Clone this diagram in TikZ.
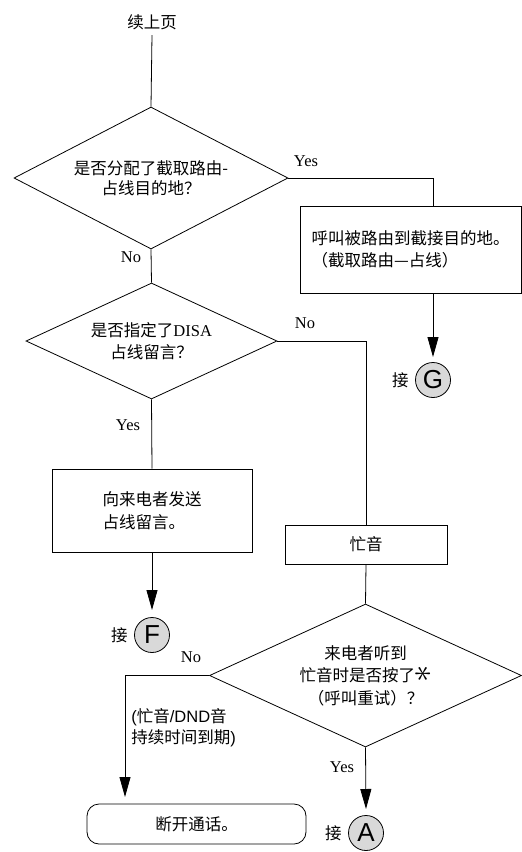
\documentclass[tikz,border=0pt]{standalone}
\usepackage{fontspec}
\setmainfont{Liberation Serif}
\newfontfamily\cjk{Noto Sans CJK SC}
\newfontfamily\lsans{Liberation Sans}
\usetikzlibrary{shapes.geometric,arrows.meta}
\begin{document}
\begin{tikzpicture}[x=1pt,y=-1pt, line width=0.8pt,
  every node/.style={font=\cjk\fontsize{16.5}{22.5}\selectfont},
  decision/.style={draw,diamond,inner sep=0pt,align=center},
  procbox/.style={draw,rectangle,inner sep=0pt},
  termbox/.style={draw,rectangle,rounded corners=12pt,inner sep=0pt},
  connector/.style={draw,circle,fill=gray!30,minimum size=35pt,inner sep=0pt,
    font=\lsans\fontsize{26}{26}\selectfont},
  lbl/.style={inner sep=0pt},
  ylbl/.style={inner sep=0pt,font=\rmfamily\fontsize{16.5}{16.5}\selectfont},
  arr/.style={-{Triangle[length=20pt,width=11pt]}}
]
\useasboundingbox (0,0) rectangle (522,852);

\node[lbl,inner sep=5pt] (start) at (152,22) {续上页};
\node[decision,aspect=1.93,minimum width=274pt,minimum height=142pt] (d1) at (151,178)
  {\raisebox{-4pt}{\shortstack{是否分配了截取路由-\\[2pt]占线目的地？}}};
\node[procbox,minimum width=221pt,minimum height=87pt,align=left] (b1) at (410.5,249.5)
  {呼叫被路由到截接目的地。\\（截取路由—占线）};
\node[connector] (G) at (433,380) {G};
\node[lbl,anchor=east] (Gl) at ([xshift=-6pt]G.west) {接};

\node[decision,aspect=2.16,minimum width=251pt,minimum height=116pt] (d2) at (151.5,341)
  {是否指定了{\rmfamily DISA}\\占线留言？};
\node[procbox,minimum width=200pt,minimum height=83pt,align=left] (b2) at (152,510.5)
  {向来电者发送\\占线留言。};
\node[connector] (F) at (152,635) {F};
\node[lbl,anchor=east] (Fl) at ([xshift=-6pt]F.west) {接};

\node[procbox,minimum width=162pt,minimum height=39pt] (busy) at (366,544.5) {忙音};
\node[decision,aspect=2.18,minimum width=312pt,minimum height=143pt] (d3) at (365.5,675.5)
  {来电者听到\\忙音时是否按了\raisebox{-1pt}{\rotatebox{90}{\scalebox{2}{$\ast$}}}\\（呼叫重试）？};
\node[termbox,minimum width=219pt,minimum height=40pt] (end) at (196.5,824) {断开通话。};
\node[connector] (A) at (366,833) {A};
\node[lbl,anchor=east] (Al) at ([xshift=-6pt]A.west) {接};

\node[ylbl] (y1) at (306,161) {Yes};
\node[ylbl] (n1) at (131,257) {No};
\node[ylbl] (n2) at (305,323) {No};
\node[ylbl] (y2) at (128,425) {Yes};
\node[ylbl] (n3) at (191,657) {No};
\node[ylbl] (y3) at (342,767) {Yes};
\node[lbl,anchor=west,align=left,font=\cjk\fontsize{16.5}{21.5}\selectfont] (note) at (131,727.5)
  {{\lsans (}忙音{\lsans /DND}音\\持续时间到期{\lsans )}};

\coordinate (Gin) at (433,357);
\coordinate (Fin) at (152,610);
\coordinate (Ain) at (366,809);
\coordinate (Ein) at (125,797);

\draw (start.south) -- (d1.north);
\draw (d1.east) -| (b1.north -| G.center);
\draw[arr] (b1.south -| G.center) -- (Gin);
\draw (d1.south) -- (d2.north);
\draw (d2.east) -| (busy.north);
\draw (d2.south) -- (b2.north);
\draw[arr] (b2.south) -- (Fin);
\draw (busy.south) -- (d3.north);
\draw[arr] (d3.west) -| (Ein);
\draw[arr] (d3.south) -- (Ain);
\end{tikzpicture}
\end{document}
